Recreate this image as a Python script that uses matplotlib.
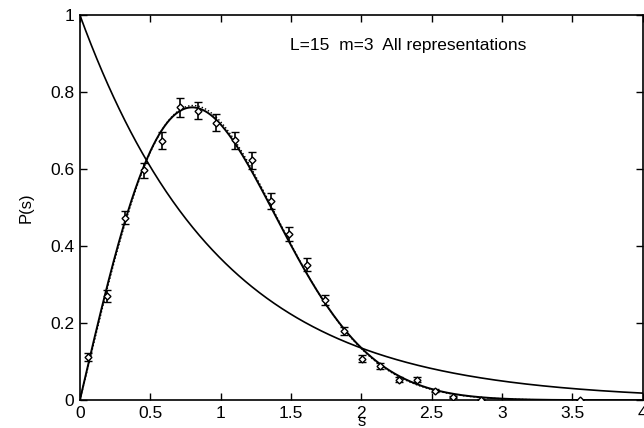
import numpy as np
import matplotlib
matplotlib.use("Agg")
import matplotlib.pyplot as plt
from math import gamma

# nearest-neighbour spacing histogram
s_bins = [0.06, 0.19, 0.32, 0.455, 0.585, 0.715, 0.84, 0.97, 1.10, 1.226, 1.356,
          1.485, 1.615, 1.745, 1.875, 2.005, 2.135, 2.266, 2.396, 2.524, 2.652,
          2.848, 3.556]
p_vals = [0.112, 0.270, 0.474, 0.597, 0.673, 0.760, 0.751, 0.720, 0.675, 0.623,
          0.517, 0.432, 0.352, 0.260, 0.179, 0.108, 0.089, 0.053, 0.053, 0.025,
          0.009, 0.001, 0.0]
p_errs = [0.010, 0.015, 0.017, 0.020, 0.022, 0.024, 0.022, 0.022, 0.022, 0.022,
          0.020, 0.018, 0.016, 0.013, 0.011, 0.009, 0.008, 0.006, 0.006, 0.004,
          0.003, 0.002, 0.001]

brody_beta = 1.02
title_text = "L=15  m=3  All representations"

plt.rcParams["font.family"] = ["Liberation Sans", "DejaVu Sans"]

fig = plt.figure(figsize=(6.44, 4.28), dpi=100)
ax = fig.add_axes([0.124, 0.065, 0.874, 0.900])

s = np.linspace(0, 4, 600)
# Poisson and Wigner surmise
ax.plot(s, np.exp(-s), color="black", lw=1.2)
ax.plot(s, np.pi / 2 * s * np.exp(-np.pi * s**2 / 4), color="black", lw=1.4)

# Brody fit (dotted)
sb = np.linspace(0, 3.4, 400)
b = gamma((brody_beta + 2) / (brody_beta + 1)) ** (brody_beta + 1)
pb = (brody_beta + 1) * b * sb**brody_beta * np.exp(-b * sb ** (brody_beta + 1))
ax.plot(sb, pb, color="black", lw=1.0, ls=(0, (1, 1.5)))

ax.errorbar(s_bins, p_vals, yerr=p_errs, fmt="D", ms=3.5, mfc="white",
            mec="black", mew=1.0, ecolor="black", elinewidth=1.2, capsize=3,
            capthick=1.0, zorder=5)

ax.text(2.33, 0.922, title_text, ha="center", va="center", fontsize=12.5)

ax.set_xlim(0, 4)
ax.set_ylim(0, 1)
ax.set_xticks([0, 0.5, 1, 1.5, 2, 2.5, 3, 3.5, 4])
ax.set_xticklabels(["0", "0.5", "1", "1.5", "2", "2.5", "3", "3.5", "4"])
ax.set_yticks([0, 0.2, 0.4, 0.6, 0.8, 1])
ax.set_yticklabels(["0", "0.2", "0.4", "0.6", "0.8", "1"])
ax.tick_params(direction="in", length=5, width=1, top=True, right=True,
               labelsize=12.5, pad=4)
ax.set_xlabel("s", fontsize=12, labelpad=-5)
ax.set_ylabel("P(s)", fontsize=12, labelpad=12)
for sp in ax.spines.values():
    sp.set_linewidth(1.2)

fig.savefig("out.png", dpi=100)
